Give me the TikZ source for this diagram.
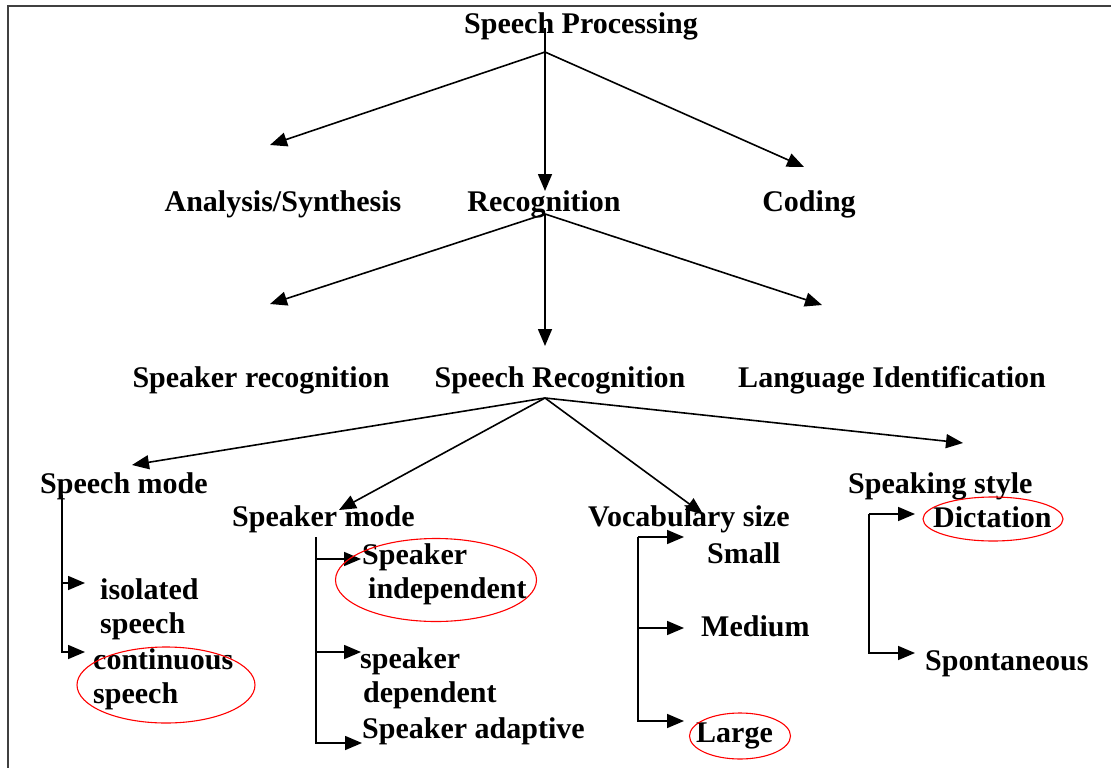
\documentclass[tikz,border=0pt]{standalone}
\usepackage{fontspec}
\setmainfont{Liberation Serif}
\usetikzlibrary{arrows.meta,shapes.geometric}
\begin{document}
\begin{tikzpicture}[x=1pt,y=-1pt,
  lbl/.style={font=\fontsize{30}{34}\selectfont\bfseries, inner sep=0pt, anchor=base},
  lbll/.style={lbl, anchor=base west, align=left},
  arr/.style={line width=1.6pt, -{Triangle[length=17pt,width=14pt]}},
  ring/.style={draw=red, line width=1.1pt, ellipse, inner sep=0pt},
  frame/.style={line width=2.5pt, black!75}]
\useasboundingbox (0,0) rectangle (1111,768);
\fill[white] (0,0) rectangle (1111,768);
% frame
\coordinate (f0) at (8,6); \coordinate (f1) at (1111,6); \coordinate (f2) at (8,768);
\draw[frame] (f1) -- (f0) -- (f2);
% level 0
\node[lbl] (sp) at (581,34) {Speech Processing};
\coordinate (h0) at (545,52); \coordinate (h0t) at (545,28);
% level 1
\node[lbl] (as) at (283,211) {Analysis/Synthesis};
\node[lbl] (rec) at (544,211) {Recognition};
\node[lbl] (cod) at (809,211) {Coding};
\coordinate (tas) at (270,145); \coordinate (trec) at (545,191); \coordinate (tcod) at (804,167);
\draw[arr] (h0) -- (tas);
\draw[arr] (h0t) -- (trec);
\draw[arr] (h0) -- (tcod);
% level 2
\coordinate (h1) at (545,214);
\node[lbl] (spk) at (261,387) {Speaker recognition};
\node[lbl] (sr) at (560,387) {Speech Recognition};
\node[lbl] (li) at (892,387) {Language Identification};
\coordinate (tspk) at (270,304); \coordinate (tsr) at (545,346); \coordinate (tli) at (822,305);
\draw[arr] (h1) -- (tspk);
\draw[arr] (h1) -- (tsr);
\draw[arr] (h1) -- (tli);
% level 3
\coordinate (h2) at (545,398);
\node[lbll] (sm) at (40,493) {Speech mode};
\node[lbll] (skm) at (232,526) {Speaker mode};
\node[lbll] (vs) at (588,526) {Vocabulary size};
\node[lbll] (ss) at (848,493) {Speaking style};
\coordinate (tsm) at (132,465); \coordinate (tskm) at (339,510);
\coordinate (tvs) at (703,514); \coordinate (tss) at (963,443);
\draw[arr] (h2) -- (tsm);
\draw[arr] (h2) -- (tskm);
\draw[arr] (h2) -- (tvs);
\draw[arr] (h2) -- (tss);
% speech mode branch
\node[lbll] (iso) at (100,633) {isolated\\speech};
\node[lbll] (con) at (93,703) {continuous\\speech};
\coordinate (b1) at (62,495);
\coordinate (b1a) at (85,583); \coordinate (b1b) at (85,652);
\draw[arr] (b1) |- (b1a);
\draw[arr] (b1) |- (b1b);
\node[ring, minimum width=178pt, minimum height=76pt] (e1) at (166,685) {};
% speaker mode branch
\node[lbll] (ind) at (362,598) {Speaker\\\hspace{6pt}independent};
\node[lbll] (dep) at (360,702) {speaker\\\hspace{3pt}dependent};
\node[lbll] (ada) at (362,738) {Speaker adaptive};
\coordinate (b2) at (316,537);
\coordinate (b2a) at (361,559); \coordinate (b2b) at (361,652); \coordinate (b2c) at (362,743);
\draw[arr] (b2) |- (b2a);
\draw[arr] (b2) |- (b2b);
\draw[arr] (b2) |- (b2c);
\node[ring, minimum width=201pt, minimum height=83pt] (e2) at (436,580) {};
% vocabulary branch
\node[lbll] (sma) at (707,563) {Small};
\node[lbll] (med) at (701,636) {Medium};
\node[lbll] (lar) at (696,742) {Large};
\coordinate (b3) at (638,537);
\coordinate (b3a) at (684,537); \coordinate (b3b) at (684,628); \coordinate (b3c) at (684,721);
\draw[arr] (b3) -- (b3a);
\draw[arr] (b3) |- (b3b);
\draw[arr] (b3) |- (b3c);
\node[ring, minimum width=101pt, minimum height=46pt] (e3) at (740,736) {};
% speaking style branch
\node[lbll] (dic) at (933,527) {Dictation};
\node[lbll] (spo) at (925,670) {Spontaneous};
\coordinate (b4) at (869,514);
\coordinate (b4a) at (915,514); \coordinate (b4b) at (915,653);
\draw[arr] (b4) -- (b4a);
\draw[arr] (b4) |- (b4b);
\node[ring, minimum width=140pt, minimum height=44pt] (e4) at (993,519) {};
\end{tikzpicture}
\end{document}
